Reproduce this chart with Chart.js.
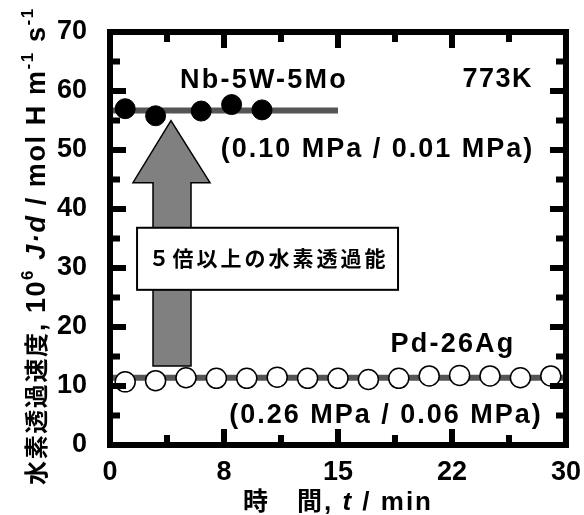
<!DOCTYPE html>
<html>
<head>
<meta charset="utf-8">
<script src="https://cdn.jsdelivr.net/npm/chart.js@4.4.0/dist/chart.umd.min.js"></script>
<style>
  html, body { margin: 0; padding: 0; background: #fff; }
  canvas { display: block; }
</style>
</head>
<body>
<canvas id="c" width="584" height="515"></canvas>
<script>
// ---- data ----
const nbTime = [1, 3, 6, 8, 10];
const nbFlux = [57.0, 55.8, 56.6, 57.7, 56.8];
const pdTime = [1, 3, 5, 7, 9, 11, 13, 15, 17, 19, 21, 23, 25, 27, 29];
const pdFlux = [10.7, 10.9, 11.4, 11.3, 11.3, 11.5, 11.3, 11.3, 11.1, 11.3, 11.7, 11.8, 11.7, 11.4, 11.7];
const nbFitTime = [0, 15];
const nbFitFlux = [56.7, 56.7];
const pdFitTime = [0, 30];
const pdFitFlux = [11.4, 11.4];
const xTickValues = [0, 7.5, 15, 22.5, 30];
const xTickLabels = ['0', '8', '15', '22', '30'];

const LAT = '"Liberation Sans", Arial, sans-serif';
const CJK = '"Noto Sans CJK JP", "Noto Sans CJK SC", sans-serif';

function pts(xs, ys) { return xs.map((x, i) => ({ x: x, y: ys[i] })); }

function drawRuns(ctx, runs, x, y, align, spacing) {
  ctx.save();
  try { ctx.letterSpacing = spacing + 'px'; } catch (e) {}
  ctx.textBaseline = 'alphabetic';
  ctx.textAlign = 'left';
  ctx.fillStyle = '#000';
  let total = 0;
  runs.forEach(r => { ctx.font = r.font; r.w = ctx.measureText(r.text).width; total += r.w; });
  let cx = align === 'center' ? x - total / 2 : (align === 'right' ? x - total : x);
  runs.forEach(r => { ctx.font = r.font; ctx.fillText(r.text, cx, y + (r.dy || 0)); cx += r.w; });
  ctx.restore();
}

const decor = {
  id: 'decor',
  beforeDatasetsDraw(chart) {
    const ctx = chart.ctx, xs = chart.scales.x, ys = chart.scales.y;
    const X = v => xs.getPixelForValue(v), Y = v => ys.getPixelForValue(v);
    // big arrow
    ctx.save();
    ctx.beginPath();
    ctx.moveTo(X(4.01), Y(54.98));
    ctx.lineTo(X(6.58), Y(44.46));
    ctx.lineTo(X(5.33), Y(44.46));
    ctx.lineTo(X(5.33), Y(13.4));
    ctx.lineTo(X(2.83), Y(13.4));
    ctx.lineTo(X(2.83), Y(44.46));
    ctx.lineTo(X(1.51), Y(44.46));
    ctx.closePath();
    ctx.fillStyle = '#808080';
    ctx.fill();
    ctx.lineWidth = 1.5;
    ctx.strokeStyle = '#000';
    ctx.stroke();
    // box
    const bx = X(1.78), by = Y(36.82), bw = X(18.95) - bx, bh = Y(26.3) - by;
    ctx.fillStyle = '#fff';
    ctx.fillRect(bx, by, bw, bh);
    ctx.lineWidth = 2;
    ctx.strokeRect(bx, by, bw, bh);
    ctx.restore();
    drawRuns(ctx, [{ text: '５倍以上の水素透過能', font: 'bold 21px ' + CJK }], X(10.33) + 1.5, Y(31.7) + 8, 'center', 3);
  },
  afterDraw(chart) {
    const ctx = chart.ctx, a = chart.chartArea, xs = chart.scales.x, ys = chart.scales.y;
    const X = v => xs.getPixelForValue(v), Y = v => ys.getPixelForValue(v);
    ctx.save();
    ctx.strokeStyle = '#000';
    // ticks (inward)
    ctx.lineWidth = 6;
    ctx.lineCap = 'butt';
    for (let i = 1; i < 8; i++) {
      const v = i * 3.75, len = (i % 2 === 0) ? 16 : 10, px = X(v);
      ctx.beginPath();
      ctx.moveTo(px, a.bottom); ctx.lineTo(px, a.bottom - len);
      ctx.moveTo(px, a.top); ctx.lineTo(px, a.top + len);
      ctx.stroke();
    }
    for (let i = 1; i < 14; i++) {
      const v = i * 5, len = (i % 2 === 0) ? 16 : 10, py = Y(v);
      ctx.beginPath();
      ctx.moveTo(a.left, py); ctx.lineTo(a.left + len, py);
      ctx.moveTo(a.right, py); ctx.lineTo(a.right - len, py);
      ctx.stroke();
    }
    // frame
    ctx.lineWidth = 6;
    ctx.lineJoin = 'miter';
    ctx.strokeRect(a.left, a.top, a.right - a.left, a.bottom - a.top);
    ctx.restore();

    // annotations
    const f28 = 'bold 27px ' + LAT;
    drawRuns(ctx, [{ text: 'Nb-5W-5Mo', font: f28 }], X(10.13), Y(60.58), 'center', 2.2);
    drawRuns(ctx, [{ text: '773K', font: f28 }], X(27.83), Y(60.75), 'right', 1.5);
    drawRuns(ctx, [{ text: '(0.10 MPa / 0.01 MPa)', font: f28 }], X(17.6), Y(48.87), 'center', 2);
    drawRuns(ctx, [{ text: 'Pd-26Ag', font: f28 }], X(22.57), Y(15.78), 'center', 2.2);
    drawRuns(ctx, [{ text: '(0.26 MPa / 0.06 MPa)', font: f28 }], X(18.16), Y(3.73), 'center', 2);

    // x-axis title
    drawRuns(ctx, [
      { text: '時\u3000間', font: 'bold 25px ' + CJK },
      { text: ', ', font: 'bold 26px ' + LAT },
      { text: 't', font: 'italic bold 26px ' + LAT },
      { text: ' / min', font: 'bold 26px ' + LAT }
    ], (a.left + a.right) / 2, 510, 'center', 2);

    // y-axis title (rotated)
    ctx.save();
    ctx.translate(45, 246);
    ctx.rotate(-Math.PI / 2);
    drawRuns(ctx, [
      { text: '水素透過速度', font: 'bold 24px ' + CJK },
      { text: ', 10', font: 'bold 27px ' + LAT },
      { text: '6', font: 'bold 17px ' + LAT, dy: -12 },
      { text: ' ', font: 'bold 27px ' + LAT },
      { text: 'J·d', font: 'italic bold 27px ' + LAT },
      { text: ' / mol H m', font: 'bold 27px ' + LAT },
      { text: '-1', font: 'bold 17px ' + LAT, dy: -12 },
      { text: ' s', font: 'bold 27px ' + LAT },
      { text: '-1', font: 'bold 17px ' + LAT, dy: -12 }
    ], 0, 0, 'center', 1.6);
    ctx.restore();
  }
};

new Chart(document.getElementById('c'), {
  type: 'scatter',
  data: {
    datasets: [
      {
        label: 'Nb-5W-5Mo',
        data: pts(nbTime, nbFlux),
        pointRadius: 10,
        pointBackgroundColor: '#000',
        pointBorderColor: '#000',
        pointBorderWidth: 1,
        order: 0
      },
      {
        label: 'Pd-26Ag',
        data: pts(pdTime, pdFlux),
        pointRadius: 10,
        pointBackgroundColor: '#fff',
        pointBorderColor: '#000',
        pointBorderWidth: 1.5,
        order: 0
      },
      {
        label: 'Nb fit',
        type: 'line',
        data: pts(nbFitTime, nbFitFlux),
        borderColor: '#555',
        borderWidth: 6,
        pointRadius: 0,
        order: 1
      },
      {
        label: 'Pd fit',
        type: 'line',
        data: pts(pdFitTime, pdFitFlux),
        borderColor: '#555',
        borderWidth: 6,
        pointRadius: 0,
        order: 1
      }
    ]
  },
  options: {
    responsive: false,
    animation: false,
    layout: { padding: { top: 32, right: 18, left: 0, bottom: 0 } },
    plugins: { legend: { display: false }, tooltip: { enabled: false } },
    scales: {
      x: {
        type: 'linear', min: 0, max: 30,
        grid: { display: false }, border: { display: false },
        afterBuildTicks(s) { s.ticks = xTickValues.map(v => ({ value: v })); },
        ticks: {
          padding: 3, color: '#000', maxRotation: 0, minRotation: 0, autoSkip: false,
          font: { family: 'Liberation Sans', size: 27, weight: 'bold' },
          callback: function (v) { const k = xTickValues.indexOf(v); return k >= 0 ? xTickLabels[k] : ''; }
        },
        afterFit(s) { s.height = 70; }
      },
      y: {
        type: 'linear', min: 0, max: 70,
        grid: { display: false }, border: { display: false },
        ticks: {
          stepSize: 10, padding: 15, color: '#000',
          font: { family: 'Liberation Sans', size: 27, weight: 'bold' }
        },
        afterFit(s) { s.width = 110; }
      }
    }
  },
  plugins: [decor]
});
</script>
</body>
</html>
